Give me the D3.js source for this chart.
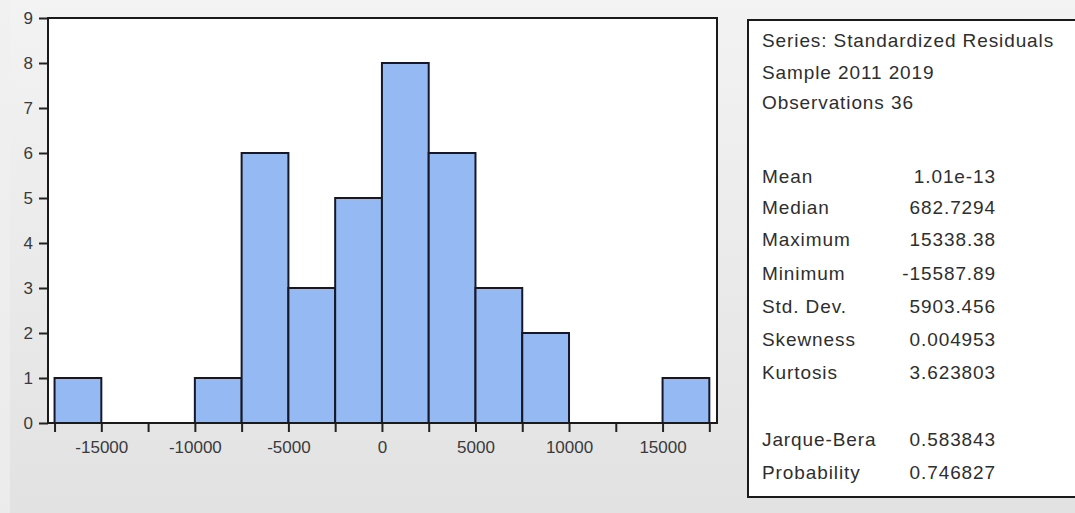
<!DOCTYPE html>
<html>
<head>
<meta charset="utf-8">
<script src="https://cdn.jsdelivr.net/npm/d3@7"></script>
<style>
  html, body { margin: 0; padding: 0; background: #e9e9e9; }
  svg { display: block; }
</style>
</head>
<body>
<svg id="chart" width="1075" height="513"></svg>
<script>
// Histogram of standardized residuals: bins of width 2500
const binEdges = [-17500, -15000, -12500, -10000, -7500, -5000, -2500, 0, 2500, 5000, 7500, 10000, 12500, 15000, 17500];
const binCounts = [1, 0, 0, 1, 6, 3, 5, 8, 6, 3, 2, 0, 0, 1];

const yTicks = [0, 1, 2, 3, 4, 5, 6, 7, 8, 9];
const xTicks = [-17500, -15000, -12500, -10000, -7500, -5000, -2500, 0, 2500, 5000, 7500, 10000, 12500, 15000, 17500];
const xTickLabels = [-15000, -10000, -5000, 0, 5000, 10000, 15000];

// Descriptive statistics panel
const headerLines = ["Series: Standardized Residuals", "Sample 2011 2019", "Observations 36"];
const statNames = ["Mean", "Median", "Maximum", "Minimum", "Std. Dev.", "Skewness", "Kurtosis", "Jarque-Bera", "Probability"];
const statValues = ["1.01e-13", "682.7294", "15338.38", "-15587.89", "5903.456", "0.004953", "3.623803", "0.583843", "0.746827"];

const svg = d3.select("#chart");
const W = 1075, H = 513;

// window background
const defs = svg.append("defs");
const grad = defs.append("linearGradient").attr("id", "bg").attr("x1", 0).attr("y1", 0).attr("x2", 0).attr("y2", 1);
grad.append("stop").attr("offset", "0%").attr("stop-color", "#f3f3f3");
grad.append("stop").attr("offset", "100%").attr("stop-color", "#e2e2e2");
svg.append("rect").attr("width", W).attr("height", H).attr("fill", "url(#bg)");
svg.append("rect").attr("width", 10).attr("height", H).attr("fill", "#f0f0f0").attr("opacity", 0.7);

const plot = { left: 48, top: 18, right: 717, bottom: 423 };

const x = d3.scaleLinear().domain([-17850, 17910]).range([plot.left, plot.right]);
const y = d3.scaleLinear().domain([0, 9]).range([plot.bottom, plot.top]);

// plot area
svg.append("rect")
  .attr("x", plot.left).attr("y", plot.top)
  .attr("width", plot.right - plot.left).attr("height", plot.bottom - plot.top)
  .attr("fill", "#ffffff");

const bins = binCounts.map((c, i) => ({ x0: binEdges[i], x1: binEdges[i + 1], count: c }));

svg.append("g").selectAll("rect")
  .data(bins.filter(d => d.count > 0))
  .join("rect")
  .attr("x", d => x(d.x0))
  .attr("y", d => y(d.count))
  .attr("width", d => x(d.x1) - x(d.x0))
  .attr("height", d => y(0) - y(d.count))
  .attr("fill", "#94b9f3")
  .attr("stroke", "#16182a")
  .attr("stroke-width", 2);

const axisFont = "'Liberation Sans', Arial, sans-serif";

// y axis
const yAxis = svg.append("g")
  .attr("transform", `translate(${plot.left},0)`)
  .call(d3.axisLeft(y).tickValues(yTicks).tickSize(9).tickPadding(6).tickFormat(d3.format("d")));
yAxis.select(".domain").remove();
yAxis.selectAll("line").attr("stroke", "#222").attr("stroke-width", 2);
yAxis.selectAll("text").attr("font-family", axisFont).attr("font-size", 17).attr("fill", "#3a3a3a");

// x axis
const xAxis = svg.append("g")
  .attr("transform", `translate(0,${plot.bottom})`)
  .call(d3.axisBottom(x).tickValues(xTicks).tickSize(9).tickPadding(9)
    .tickFormat(d => xTickLabels.includes(d) ? String(d) : ""));
xAxis.select(".domain").remove();
xAxis.selectAll("line").attr("stroke", "#222").attr("stroke-width", 2);
xAxis.selectAll("text").attr("font-family", axisFont).attr("font-size", 17).attr("fill", "#3a3a3a");

// frame
svg.append("rect")
  .attr("x", plot.left).attr("y", plot.top)
  .attr("width", plot.right - plot.left).attr("height", plot.bottom - plot.top)
  .attr("fill", "none").attr("stroke", "#1a1a1a").attr("stroke-width", 2);

// statistics box
const box = { left: 748, top: 20, bottom: 497 };
svg.append("rect")
  .attr("x", box.left).attr("y", box.top)
  .attr("width", W - box.left + 10).attr("height", box.bottom - box.top)
  .attr("fill", "#ffffff").attr("stroke", "#1a1a1a").attr("stroke-width", 2);

const statFont = { family: "'Liberation Sans', Arial, sans-serif", size: 19, spacing: 0.9, color: "#2e2e2e" };
const headerBaselines = [47, 79, 109];
const statBaselines = [183, 214, 246, 280, 313, 346, 379, 446, 479];
const labelX = 762, valueX = 996;

const txt = svg.append("g")
  .attr("font-family", statFont.family)
  .attr("font-size", statFont.size)
  .attr("letter-spacing", statFont.spacing)
  .attr("fill", statFont.color);

txt.selectAll("text.head").data(headerLines).join("text")
  .attr("class", "head")
  .attr("x", labelX).attr("y", (d, i) => headerBaselines[i])
  .text(d => d);

txt.selectAll("text.name").data(statNames).join("text")
  .attr("class", "name")
  .attr("x", labelX).attr("y", (d, i) => statBaselines[i])
  .text(d => d);

txt.selectAll("text.val").data(statValues).join("text")
  .attr("class", "val")
  .attr("x", valueX).attr("y", (d, i) => statBaselines[i])
  .attr("text-anchor", "end")
  .text(d => d);
</script>
</body>
</html>
